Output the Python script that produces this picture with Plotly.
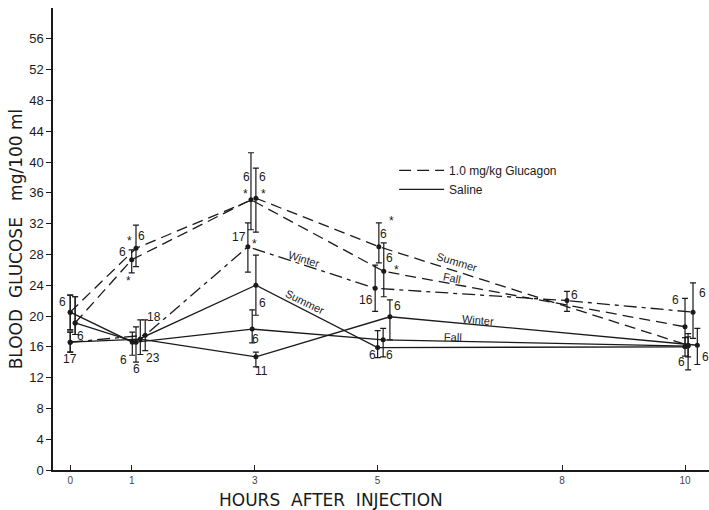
import plotly.graph_objects as go

# ---- data (hours after injection, blood glucose mg/100 ml) ----
glu_summer_x = [0.0, 1.07, 3.02, 5.02, 10.05]
glu_summer_y = [20.5, 28.8, 35.3, 29.0, 16.2]
glu_summer_up = [2.2, 3.0, 3.9, 3.1, 1.5]
glu_summer_dn = [2.3, 2.4, 4.4, 2.1, 1.5]

glu_fall_x = [0.08, 1.0, 2.94, 5.1, 10.0]
glu_fall_y = [19.1, 27.3, 35.1, 25.8, 18.6]
glu_fall_up = [3.4, 1.3, 6.1, 3.7, 3.7]
glu_fall_dn = [1.5, 1.7, 3.9, 3.3, 2.6]

glu_winter_x = [0.0, 1.22, 2.89, 4.96, 8.08, 10.13]
glu_winter_y = [16.6, 17.5, 29.0, 23.6, 22.0, 20.5]
glu_winter_up = [1.3, 2.0, 3.1, 3.0, 1.2, 3.8]
glu_winter_dn = [1.3, 2.0, 3.3, 3.0, 1.4, 3.4]

sal_summer_x = [0.0, 1.01, 3.02, 5.0, 10.0]
sal_summer_y = [20.5, 16.6, 24.0, 15.9, 16.0]
sal_summer_up = [2.2, 1.3, 3.9, 2.2, 1.2]
sal_summer_dn = [2.3, 1.7, 3.9, 1.3, 1.2]

sal_fall_x = [0.08, 1.07, 2.96, 5.09, 10.05]
sal_fall_y = [19.1, 16.6, 18.3, 16.9, 16.1]
sal_fall_up = [3.4, 2.0, 2.5, 1.5, 1.2]
sal_fall_dn = [1.5, 2.6, 1.8, 2.2, 3.1]

sal_winter_x = [0.0, 1.14, 3.02, 5.2, 10.2]
sal_winter_y = [16.6, 17.0, 14.7, 19.9, 16.2]
sal_winter_up = [1.3, 2.5, 0.6, 2.2, 2.2]
sal_winter_dn = [1.3, 2.0, 1.3, 3.0, 2.5]

x_ticks = [0, 1, 3, 5, 8, 10]
x_tick_text = ["0", "1", "3", "5", "8", "10"]
y_ticks = list(range(0, 57, 4))

# sample sizes / significance marks (text, hour, value)
n_labels = [
    ("6", -0.13, 21.8), ("6", 0.17, 17.4), ("17", 0.0, 14.4),
    ("6", 0.85, 28.3), ("6", 1.16, 30.4), ("*", 0.96, 29.7), ("*", 0.95, 24.6),
    ("18", 1.36, 19.9), ("6", 0.87, 14.3), ("6", 1.07, 13.1), ("23", 1.34, 14.6),
    ("6", 2.87, 38.1), ("6", 3.13, 38.1), ("*", 2.85, 35.9), ("*", 3.15, 35.9),
    ("17", 2.75, 30.3), ("*", 2.99, 29.4),
    ("6", 3.13, 21.7), ("6", 3.02, 17.0), ("11", 3.11, 12.9),
    ("*", 5.22, 32.4), ("6", 5.1, 30.7), ("6", 5.2, 27.5), ("*", 5.3, 26.0),
    ("16", 4.81, 22.1), ("6", 5.33, 21.3), ("6", 4.91, 14.9), ("6", 5.2, 14.9),
    ("6", 8.2, 22.7),
    ("6", 9.84, 22.1), ("6", 10.29, 23.0), ("6", 9.95, 14.0), ("6", 10.33, 14.7),
]

# season labels along lines (text, hour, value, angle)
season_labels = [
    ("Summer", 6.29, 27.0, 17), ("Fall", 6.21, 24.9, 11), ("Winter", 3.8, 27.4, 17),
    ("Summer", 3.82, 21.8, 26), ("Winter", 6.63, 19.5, 5), ("Fall", 6.23, 17.3, 2),
]

FONT = "Liberation Sans"
TFONT = "DejaVu Sans"
INK = "#1a1a1a"
NB = "\u00a0"

fig = go.Figure()

def add_series(x, y, up, dn, dash):
    fig.add_trace(go.Scatter(
        x=x, y=y, mode="lines+markers", showlegend=False,
        line=dict(color=INK, width=1.3, dash=dash),
        marker=dict(color=INK, size=5),
        error_y=dict(type="data", symmetric=False, array=up, arrayminus=dn,
                     color=INK, thickness=1.2, width=3),
    ))

dash_g = "11px,6px"
dash_w = "13px,5px,4px,5px"
add_series(glu_summer_x, glu_summer_y, glu_summer_up, glu_summer_dn, dash_g)
add_series(glu_fall_x, glu_fall_y, glu_fall_up, glu_fall_dn, dash_g)
add_series(glu_winter_x, glu_winter_y, glu_winter_up, glu_winter_dn, dash_w)
add_series(sal_summer_x, sal_summer_y, sal_summer_up, sal_summer_dn, "solid")
add_series(sal_fall_x, sal_fall_y, sal_fall_up, sal_fall_dn, "solid")
add_series(sal_winter_x, sal_winter_y, sal_winter_up, sal_winter_dn, "solid")

# legend entries
fig.add_trace(go.Scatter(x=[None], y=[None], mode="lines", name="1.0 mg/kg Glucagon",
                         line=dict(color=INK, width=1.3, dash="12px,6px")))
fig.add_trace(go.Scatter(x=[None], y=[None], mode="lines", name="Saline",
                         line=dict(color=INK, width=1.3)))

for t, hx, vy in n_labels:
    fig.add_annotation(x=hx, y=vy, text=t, showarrow=False,
                       font=dict(family=FONT, size=12, color=INK))
for t, hx, vy, ang in season_labels:
    fig.add_annotation(x=hx, y=vy, text=t, showarrow=False, textangle=ang,
                       font=dict(family=FONT, size=11, color=INK))

# x axis title (placed left of centre as in the reference)
fig.add_annotation(xref="paper", yref="paper", x=0.424, y=-0.066,
                   xanchor="center", yanchor="middle", showarrow=False,
                   text="HOURS" + NB * 2 + "AFTER" + NB * 2 + "INJECTION",
                   font=dict(family=TFONT, size=17, color=INK))

fig.update_layout(
    width=709, height=510,
    margin=dict(l=53, r=0, t=8, b=40),
    paper_bgcolor="white", plot_bgcolor="white",
    font=dict(family=FONT, size=12, color=INK),
    legend=dict(x=0.52, y=0.68, xanchor="left", yanchor="top",
                bgcolor="rgba(0,0,0,0)", font=dict(family=FONT, size=12, color=INK),
                tracegroupgap=0, itemwidth=45),
    xaxis=dict(range=[-0.28, 10.39], tickvals=x_ticks, ticktext=x_tick_text,
               ticks="inside", ticklen=5, tickcolor=INK, showgrid=False, zeroline=False,
               showline=True, linecolor=INK, linewidth=1.5,
               tickfont=dict(family=FONT, size=10, color="#444")),
    yaxis=dict(range=[0, 60], tickvals=y_ticks, ticks="outside", ticklen=5,
               tickcolor=INK, showgrid=False, zeroline=False,
               showline=True, linecolor=INK, linewidth=1.5,
               tickfont=dict(family=FONT, size=13, color=INK),
               title=dict(text="BLOOD" + NB * 2 + "GLUCOSE" + NB * 3 + "mg/100" + NB + "ml",
                          standoff=2,
                          font=dict(family=TFONT, size=17, color=INK))),
)

fig.write_html("out.html")
